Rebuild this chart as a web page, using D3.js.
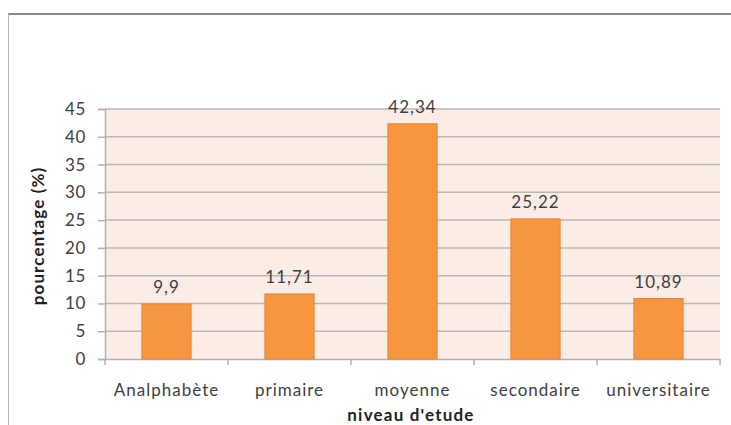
<!DOCTYPE html>
<html>
<head>
<meta charset="utf-8">
<script src="https://cdn.jsdelivr.net/npm/d3@7"></script>
<style>
  html, body { margin: 0; padding: 0; background: #fff; }
  svg { display: block; }
  text { font-family: Lato, "Open Sans", sans-serif; }
</style>
</head>
<body>
<svg id="chart" width="731" height="425"></svg>
<script>
// Niveau d'étude — pourcentage par catégorie
const categories = ["Analphabète", "primaire", "moyenne", "secondaire", "universitaire"];
const values = [9.9, 11.71, 42.34, 25.22, 10.89];
const valueLabels = ["9,9", "11,71", "42,34", "25,22", "10,89"];
const yTicks = [0, 5, 10, 15, 20, 25, 30, 35, 40, 45];

const svg = d3.select("#chart");
const W = 731, H = 425;
const plot = { left: 105, right: 720, top: 109, bottom: 359 };
const textColor = "#404040";
const axisColor = "#b4b0ad";

// outer frame (top and left edges)
svg.append("line").attr("x1", 8).attr("x2", W).attr("y1", 14).attr("y2", 14)
  .attr("stroke", "#8a8a8a").attr("stroke-width", 2);
svg.append("line").attr("x1", 8.5).attr("x2", 8.5).attr("y1", 14).attr("y2", H)
  .attr("stroke", "#b4b4b4").attr("stroke-width", 1);

const x = d3.scaleBand().domain(categories).range([plot.left, plot.right]);
const y = d3.scaleLinear().domain([0, 45]).range([plot.bottom, plot.top]);

// plot area background
svg.append("rect")
  .attr("x", plot.left).attr("y", plot.top)
  .attr("width", plot.right - plot.left).attr("height", plot.bottom - plot.top)
  .attr("fill", "#fbece5");

// horizontal gridlines
svg.append("g").selectAll("line").data(yTicks.filter(d => d > 0)).join("line")
  .attr("x1", plot.left).attr("x2", plot.right)
  .attr("y1", d => y(d)).attr("y2", d => y(d))
  .attr("stroke", "#bdb8b5").attr("stroke-width", 1.5);

// y axis
const yAxis = svg.append("g").attr("transform", `translate(${plot.left},0)`)
  .call(d3.axisLeft(y).tickValues(yTicks).tickSize(7).tickPadding(12).tickFormat(d3.format("d")));
yAxis.select(".domain").attr("stroke", axisColor).attr("stroke-width", 1.5);
yAxis.selectAll(".tick line").attr("stroke", axisColor).attr("stroke-width", 1.5);
yAxis.selectAll(".tick text").attr("fill", textColor)
  .style("font-size", "17px").style("letter-spacing", "0.6px")
  .style("font-family", "Lato, sans-serif");

// x axis
const xAxis = svg.append("g").attr("transform", `translate(0,${plot.bottom})`)
  .call(d3.axisBottom(x).tickSize(0).tickPadding(25));
xAxis.select(".domain").attr("stroke", axisColor).attr("stroke-width", 1.5);
xAxis.selectAll(".tick text").attr("fill", textColor)
  .style("font-size", "17px").style("letter-spacing", "1px")
  .style("font-family", "Lato, sans-serif");
// category separators
const bounds = categories.map(c => x(c)).concat([x(categories[categories.length - 1]) + x.bandwidth()]);
svg.append("g").selectAll("line").data(bounds).join("line")
  .attr("x1", d => d).attr("x2", d => d)
  .attr("y1", plot.bottom).attr("y2", plot.bottom + 6)
  .attr("stroke", axisColor).attr("stroke-width", 1.5);

// bars
const barW = x.bandwidth() * 0.4;
const data = categories.map((c, i) => ({ c, v: values[i], label: valueLabels[i] }));
svg.append("g").selectAll("rect").data(data).join("rect")
  .attr("x", d => x(d.c) + (x.bandwidth() - barW) / 2)
  .attr("y", d => y(d.v))
  .attr("width", barW)
  .attr("height", d => y(0) - y(d.v))
  .attr("fill", "#f7963f")
  .attr("stroke", "#e5853a").attr("stroke-width", 1);

// value labels
svg.append("g").selectAll("text").data(data).join("text")
  .attr("x", d => x(d.c) + x.bandwidth() / 2)
  .attr("y", d => y(d.v) - 11)
  .attr("text-anchor", "middle")
  .attr("fill", textColor)
  .style("font-size", "17px").style("letter-spacing", "1px")
  .text(d => d.label);

// axis titles
svg.append("text")
  .attr("transform", `translate(44,236) rotate(-90)`)
  .attr("text-anchor", "middle")
  .attr("fill", "#222")
  .style("font-size", "17px").style("font-weight", "bold").style("letter-spacing", "1.1px")
  .text("pourcentage (%)");
svg.append("text")
  .attr("x", 411).attr("y", 421)
  .attr("text-anchor", "middle")
  .attr("fill", "#222")
  .style("font-size", "17px").style("font-weight", "bold").style("letter-spacing", "1.2px")
  .text("niveau d'etude");
</script>
</body>
</html>
